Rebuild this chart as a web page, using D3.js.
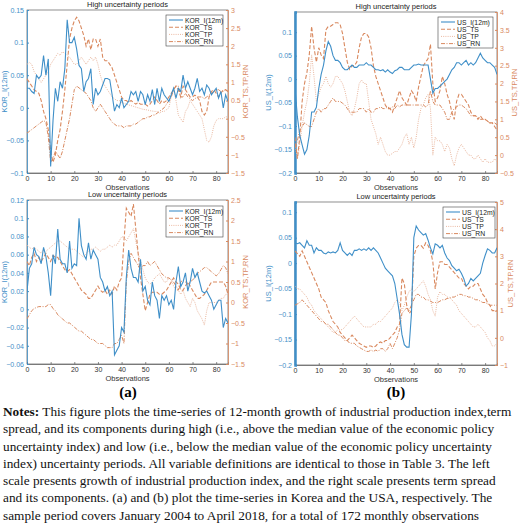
<!DOCTYPE html>
<html><head><meta charset="utf-8">
<script src="https://cdn.jsdelivr.net/npm/d3@7"></script>
<style>
body{margin:0;background:#fff;}
svg text{font-family:"Liberation Sans",Arial,sans-serif;}
#notes{position:absolute;left:3px;top:403px;width:518px;font-family:"Liberation Serif","Times New Roman",serif;font-size:13.3px;line-height:17.3px;color:#111;white-space:nowrap;}
</style></head><body>
<svg id="c" width="520" height="402" style="position:absolute;left:0;top:0"></svg>
<div id="notes"><b>Notes:</b> This figure plots the time-series of 12-month growth of industrial production index,term<br>spread, and its components during high (i.e., above the median value of the economic policy<br>uncertainty index) and low (i.e., below the median value of the economic policy uncertainty<br>index) uncertainty periods. All variable definitions are identical to those in Table 3. The left<br>scale presents growth of industrial production index, and the right scale presents term spread<br>and its components. (a) and (b) plot the time-series in Korea and the USA, respectively. The<br>sample period covers January 2004 to April 2018, for a total of 172 monthly observations</div>
<script>
const xTicks=[0,10,20,30,40,50,60,70,80];
// Panel (a) high
const korHighI=[0.03,0.03,0.025,0.022,0.05,0.045,0.05,0.08,0.05,0.075,-0.09,-0.02,0.03,0.01,0.04,0.03,0.06,0.135,0.1,0.1,0.108,0.09,0.065,0.06,0.025,0.04,0.045,0.06,0.005,0.03,0.02,0.025,0.035,0.045,0.045,0.043,0.02,-0.005,0.005,0.0,0.015,0.0,0.005,0.01,0.025,0.02,0.025,0.01,0.025,0.02,0.005,0.02,0.01,0.028,0.005,0.03,0.01,0.03,0.02,0.015,0.01,0.02,0.03,0.015,0.03,0.025,0.05,0.03,0.04,0.03,0.02,0.03,0.045,0.025,0.03,0.02,0.035,0.03,0.02,0.025,0.03,0.015,0.025,0.0,0.02,0.01];
const korHighTS=[1.1,1.0,0.9,0.8,0.75,0.7,0.5,0.2,0.0,-0.3,-0.9,-1.2,-1.0,-0.6,-0.3,0.2,0.8,1.5,2.2,2.5,2.7,2.8,2.7,2.5,2.3,2.0,2.2,1.9,2.2,2.2,2.0,2.2,1.7,1.6,1.6,1.5,1.4,1.2,1.0,0.8,0.6,0.5,0.5,0.45,0.5,0.45,0.4,0.45,0.4,0.4,0.4,0.35,0.4,0.5,0.6,0.5,0.4,0.5,0.45,0.5,0.6,0.7,0.8,0.9,0.8,0.6,0.9,0.8,0.7,0.6,0.6,0.65,0.6,0.5,0.2,0.1,0.2,0.6,0.75,0.8,0.7,0.6,0.7,0.8,0.8,0.75,0.75];
const korHighTP=[1.5,1.55,1.5,1.3,1.2,1.1,1.0,1.1,1.2,1.3,1.5,1.6,1.7,1.8,1.75,1.85,1.8,1.75,1.7,1.6,1.5,1.5,1.6,1.7,1.6,1.5,1.6,1.7,1.6,1.7,1.5,1.2,1.0,0.9,0.8,0.7,0.6,0.55,0.5,0.5,0.45,0.42,0.4,0.38,0.36,0.34,0.32,0.3,0.28,0.26,0.25,0.24,0.22,0.21,0.2,0.2,0.15,0.2,0.2,0.25,0.3,0.6,0.8,0.5,0.1,0.0,-0.1,0.2,0.3,0.5,0.4,0.3,0.2,0.1,0.0,-0.3,-0.6,-0.65,-0.5,-0.2,-0.05,0.0,0.0,0.0,0.05,0.05];
const korHighRN=[-0.4,-0.35,-0.3,-0.25,-0.2,-0.15,-0.1,-0.05,-0.1,-0.5,-1.2,-1.1,-0.9,-1.0,-1.1,-0.9,-0.6,-0.3,0.0,0.4,0.8,0.9,0.85,0.8,0.75,0.7,0.6,0.5,0.3,0.2,0.3,0.4,0.3,0.2,0.1,0.0,-0.1,-0.15,-0.2,-0.2,-0.2,-0.25,-0.2,-0.2,-0.2,-0.15,-0.15,-0.1,-0.05,0.0,0.0,0.05,0.05,0.1,0.1,0.15,0.2,0.25,0.3,0.4,0.5,0.6,0.8,0.9,0.9,0.6,0.6,0.7,0.6,0.55,0.5,0.55,0.6,0.6,0.6,0.55,0.6,0.65,0.7,0.75,0.8,0.8,0.75,0.75,0.8,0.75];
// Panel (b) high
const usHighI=[-0.02,-0.08,-0.12,-0.14,-0.16,-0.15,-0.12,-0.07,-0.07,-0.06,-0.02,0.01,0.03,0.06,0.08,0.07,0.05,0.04,0.04,0.035,0.025,0.02,0.02,0.025,0.03,0.025,0.025,0.03,0.03,0.03,0.035,0.03,0.03,0.025,0.02,0.02,0.018,0.02,0.015,0.02,0.015,0.012,0.018,0.02,0.025,0.025,0.02,0.02,0.02,0.025,0.03,0.03,0.032,0.03,0.03,0.03,0.03,0.0,-0.03,-0.02,-0.02,-0.015,-0.01,-0.005,0.0,0.01,0.02,0.025,0.035,0.035,0.03,0.035,0.04,0.03,0.035,0.03,0.035,0.045,0.055,0.045,0.04,0.035,0.035,0.03,0.025,0.01];
const usHighTS=[0.5,-0.1,0.5,1.5,2.0,2.3,2.8,3.6,3.0,2.6,3.0,2.8,2.7,3.5,3.6,3.6,3.65,3.7,3.7,3.65,3.4,3.0,2.6,2.4,2.5,2.5,2.6,3.0,3.3,3.4,3.4,3.3,3.0,2.5,2.2,2.0,1.8,1.6,1.4,1.3,1.3,1.2,1.4,1.6,1.8,1.6,1.5,1.4,1.6,1.8,1.7,1.5,1.9,2.2,2.5,2.6,2.7,3.1,2.0,1.5,1.6,1.8,2.2,2.0,1.7,1.5,1.2,1.0,1.5,1.7,1.7,1.6,1.5,1.4,1.2,1.1,1.1,1.0,1.1,1.0,1.0,0.95,0.9,0.9,0.8,0.7];
const usHighTP=[0.3,-0.1,0.3,0.8,1.2,1.5,2.0,2.8,2.2,1.5,1.7,1.9,2.0,2.2,2.0,1.9,2.0,2.2,2.2,2.1,2.0,1.8,1.5,1.2,1.1,1.3,1.6,2.0,2.1,2.0,2.0,1.5,1.0,0.8,0.6,0.3,0.5,0.3,0.1,0.0,0.0,0.05,0.1,0.1,0.2,0.3,0.5,0.6,0.3,0.5,0.2,0.5,1.0,1.3,1.4,1.6,1.7,1.3,0.0,0.5,0.4,0.4,0.3,0.1,0.3,0.2,-0.1,-0.3,0.0,0.2,0.3,0.2,0.1,0.0,0.0,-0.1,-0.1,0.0,-0.1,-0.2,-0.1,-0.2,-0.2,-0.2,-0.1,-0.2];
const usHighRN=[0.2,0.4,0.7,0.8,0.9,0.85,0.8,0.8,1.0,1.2,1.3,1.2,1.3,1.3,1.4,1.5,1.6,1.5,1.5,1.5,1.45,1.4,1.3,1.2,1.2,1.2,1.2,1.3,1.3,1.3,1.2,1.3,1.2,1.2,1.3,1.3,1.35,1.3,1.3,1.35,1.3,1.35,1.3,1.4,1.35,1.4,1.4,1.4,1.4,1.4,1.4,1.4,1.4,1.4,1.4,1.35,1.4,1.8,1.5,1.4,1.4,1.4,1.3,1.2,1.0,1.0,1.2,1.3,1.35,1.4,1.4,1.35,1.3,1.2,1.1,1.1,1.1,1.05,1.0,1.0,1.0,0.95,0.9,0.9,0.9,0.85];
// Panel (a) low
const korLowI=[0.02,0.045,0.05,0.068,0.06,0.058,0.05,0.068,0.058,0.04,0.015,0.06,0.05,0.088,0.055,0.05,0.05,0.04,0.075,0.045,0.05,0.048,0.1,0.07,0.06,0.055,0.073,0.055,0.065,0.06,0.055,0.035,0.03,0.02,0.025,0.015,0.02,-0.05,-0.045,-0.04,-0.02,-0.025,0.035,0.065,0.045,0.035,0.035,0.03,0.055,0.02,0.025,0.01,0.005,0.03,0.015,0.01,-0.01,0.015,0.01,0.015,0.005,0.01,0.0,0.03,0.047,0.025,0.03,0.04,0.02,0.03,0.045,0.035,0.04,0.03,0.02,0.018,0.02,0.015,0.01,0.0,0.005,0.01,0.01,-0.02,-0.01,-0.015];
const korLowTS=[1.0,0.9,1.1,1.2,1.0,1.1,1.0,1.1,1.2,1.1,1.0,1.15,1.1,1.1,1.0,0.9,0.8,0.75,0.8,0.7,0.6,0.5,0.4,0.3,0.25,0.2,0.1,0.1,0.2,0.3,0.4,0.3,0.25,0.3,0.2,0.3,0.2,0.4,0.3,0.5,0.6,1.5,2.3,2.2,2.1,2.4,1.8,1.2,0.6,0.2,-0.2,0.0,0.2,0.25,0.25,0.25,0.2,0.2,0.25,0.3,0.4,0.5,0.6,0.5,0.45,0.3,0.3,0.4,0.5,0.4,0.3,0.2,0.1,0.1,0.15,0.2,0.3,0.4,0.5,0.5,0.5,0.5,0.5,0.5,0.4,0.2];
const korLowTP=[1.4,1.35,1.3,1.35,1.3,1.25,1.2,1.3,1.25,1.3,1.35,1.4,1.45,1.5,1.5,1.45,1.4,1.35,1.3,1.3,1.3,1.25,1.2,1.15,1.1,1.2,1.25,1.3,1.3,1.35,1.3,1.25,1.3,1.3,1.35,1.4,1.35,1.4,1.4,1.5,1.6,1.6,1.5,1.6,1.7,1.8,1.5,1.2,1.0,0.8,0.6,0.5,0.45,0.5,0.6,0.65,0.7,0.6,0.5,0.5,0.6,0.55,0.4,0.3,0.3,0.2,0.3,0.1,0.0,-0.1,0.1,0.0,-0.2,-0.3,-0.4,-0.55,-0.2,0.0,0.0,0.0,0.0,0.05,0.1,0.1,0.2,0.2];
const korLowRN=[-0.4,-0.3,-0.2,-0.15,-0.12,-0.1,-0.1,-0.1,-0.1,-0.05,-0.05,-0.15,-0.2,-0.3,-0.35,-0.4,-0.45,-0.5,-0.5,-0.55,-0.6,-0.65,-0.7,-0.7,-0.75,-0.8,-0.85,-0.9,-0.9,-0.95,-1.0,-1.0,-1.0,-1.05,-1.1,-1.1,-1.1,-1.0,-1.0,-0.9,-0.8,-1.0,0.5,1.0,1.2,1.1,1.0,0.9,0.8,0.9,0.9,1.0,0.9,0.95,1.0,0.9,0.8,0.7,0.65,0.6,0.6,0.55,0.5,0.4,0.3,0.5,0.55,0.5,0.45,0.5,0.55,0.6,0.7,0.75,0.8,0.85,0.85,0.8,0.75,0.7,0.65,0.7,0.8,0.9,0.85,0.7];
// Panel (b) low
const usLowI=[0.04,0.038,0.04,0.035,0.03,0.044,0.035,0.035,0.02,0.03,0.025,0.025,0.02,0.018,0.022,0.02,0.022,0.02,0.025,0.04,0.025,0.02,0.015,0.02,0.015,0.025,0.025,0.028,0.025,0.028,0.025,0.03,0.025,0.03,0.025,0.02,0.01,0.0,-0.01,-0.015,-0.02,-0.025,-0.04,-0.07,-0.1,-0.14,-0.16,-0.165,-0.165,-0.1,0.05,0.073,0.065,0.06,0.055,0.058,0.045,0.03,0.018,0.038,0.035,0.03,0.035,0.02,0.01,0.005,-0.005,-0.01,-0.015,-0.012,-0.02,-0.03,-0.045,-0.04,-0.03,-0.035,-0.03,-0.025,-0.02,0.0,0.015,0.028,0.025,0.02,0.02,0.03];
const usLowTS=[3.2,3.1,3.0,3.2,3.0,2.8,2.6,2.4,2.2,2.0,1.8,1.5,1.4,1.3,1.0,0.8,0.6,0.5,0.4,0.2,0.1,0.0,-0.1,0.0,0.1,0.0,-0.1,-0.2,-0.25,-0.3,-0.35,-0.3,-0.3,-0.35,-0.3,-0.2,-0.15,-0.2,-0.1,-0.1,0.0,0.1,0.2,0.4,0.5,2.2,2.0,1.2,0.9,1.0,3.0,3.3,3.4,3.4,3.3,3.5,3.4,3.2,2.8,1.8,2.4,2.8,2.8,2.7,2.7,2.6,2.5,2.4,2.3,2.2,2.2,2.0,1.9,1.8,1.9,1.9,2.0,2.0,1.8,1.6,1.5,1.3,1.2,1.0,1.0,1.0];
const usLowTP=[1.9,1.8,1.8,1.7,1.6,1.5,1.3,1.2,1.0,0.9,0.8,0.7,0.6,0.5,0.4,0.3,0.2,0.2,0.3,0.3,0.3,0.4,0.5,0.6,0.7,0.8,0.7,0.6,0.5,0.4,0.4,0.4,0.4,0.5,0.5,0.6,0.6,0.7,0.8,0.9,1.0,1.1,1.3,1.4,1.3,1.0,1.2,1.5,1.7,1.8,1.7,1.8,1.9,2.0,2.1,1.9,1.6,1.4,1.0,0.8,1.5,1.7,1.6,1.6,1.5,1.5,1.4,1.3,1.2,1.0,0.9,0.8,0.7,0.6,0.5,0.4,0.4,0.5,0.4,0.3,0.2,0.0,-0.1,-0.3,-0.3,-0.2];
const usLowRN=[1.2,1.25,1.3,1.4,1.3,1.2,1.1,1.0,0.9,0.8,0.7,0.6,0.6,0.5,0.5,0.4,0.3,0.2,0.1,0.1,0.0,-0.1,-0.1,-0.2,-0.2,-0.2,-0.3,-0.35,-0.4,-0.45,-0.5,-0.5,-0.45,-0.5,-0.45,-0.5,-0.4,-0.4,-0.5,-0.4,-0.2,-0.4,-0.2,0.0,0.3,0.9,1.0,1.1,1.0,1.2,1.4,1.6,1.6,1.5,1.5,1.4,1.4,1.35,1.3,1.3,1.3,1.35,1.4,1.4,1.45,1.45,1.5,1.5,1.55,1.6,1.6,1.55,1.55,1.5,1.5,1.45,1.4,1.4,1.35,1.3,1.3,1.25,1.2,1.2,1.2,1.2];

const BLUE="#3f8fc8", ORANGE="#d9895f", TPCOL="#eab8a0";
const svg=d3.select("#c");
const fmt=v=>{let s=(+v.toFixed(3)).toString();return s.replace("-","\u2212");};

function panel(o){
  const g=svg.append("g");
  const x=d3.scaleLinear().domain([0,85]).range([o.x0,o.x1]);
  const yl=d3.scaleLinear().domain(o.ld).range([o.y1,o.y0]);
  const yr=d3.scaleLinear().domain(o.rd).range([o.y1,o.y0]);
  g.append("rect").attr("x",o.x0).attr("y",o.y0).attr("width",o.x1-o.x0).attr("height",o.y1-o.y0).attr("fill","none").attr("stroke","#444").attr("stroke-width",0.6);
  const fs="7px";
  const ax=g.append("g").attr("transform",`translate(0,${o.y1})`).call(d3.axisBottom(x).tickValues(xTicks).tickSize(-2).tickPadding(3).tickFormat(d3.format("d")));
  ax.selectAll("text").attr("font-size",fs).attr("fill","#333");
  ax.selectAll("line,path").attr("stroke","#444").attr("stroke-width",0.6);
  const al=g.append("g").attr("transform",`translate(${o.x0},0)`).call(d3.axisLeft(yl).tickValues(o.lt).tickSize(-2).tickPadding(3).tickFormat(fmt));
  al.selectAll("text").attr("font-size",fs).attr("fill",BLUE);
  al.selectAll("line").attr("stroke",BLUE);
  al.select("path").attr("stroke",BLUE).attr("stroke-width",o.thickL?2.5:0.8);
  const ar=g.append("g").attr("transform",`translate(${o.x1},0)`).call(d3.axisRight(yr).tickValues(o.rt).tickSize(-2).tickPadding(3).tickFormat(fmt));
  ar.selectAll("text").attr("font-size",fs).attr("fill",ORANGE);
  ar.selectAll("line").attr("stroke",ORANGE);
  ar.select("path").attr("stroke",ORANGE).attr("stroke-width",0.8);
  const clip="cl"+o.id;
  g.append("clipPath").attr("id",clip).append("rect").attr("x",o.x0).attr("y",o.y0).attr("width",o.x1-o.x0).attr("height",o.y1-o.y0);
  const L=(ys)=>d3.line().x((d,i)=>x(i)).y(d=>ys(d));
  const series=[
    {d:o.tp,s:yr,c:TPCOL,da:"1,1.2",w:1},
    {d:o.rn,s:yr,c:ORANGE,da:"4,1.5,1,1.5",w:1},
    {d:o.ts,s:yr,c:ORANGE,da:"4,2",w:1.1},
    {d:o.I,s:yl,c:BLUE,da:null,w:1.1}];
  series.forEach(se=>g.append("path").datum(se.d).attr("clip-path",`url(#${clip})`).attr("d",L(se.s)).attr("fill","none").attr("stroke",se.c).attr("stroke-width",se.w).attr("stroke-dasharray",se.da));
  g.append("text").attr("x",(o.x0+o.x1)/2).attr("y",o.y0-3).attr("text-anchor","middle").attr("font-size","7.5px").attr("fill","#222").text(o.title);
  g.append("text").attr("x",(o.x0+o.x1)/2).attr("y",o.y1+17).attr("text-anchor","middle").attr("font-size","7.5px").attr("fill","#333").text("Observations");
  g.append("text").attr("transform",`translate(${o.x0-o.lpad},${(o.y0+o.y1)/2}) rotate(-90)`).attr("text-anchor","middle").attr("font-size","7.5px").attr("fill",BLUE).text(o.lname);
  g.append("text").attr("transform",`translate(${o.x1+o.rpad},${(o.y0+o.y1)/2}) rotate(-90)`).attr("text-anchor","middle").attr("font-size","7.5px").attr("fill",ORANGE).text(o.rname);
  const lg=g.append("g").attr("transform",`translate(${o.lx},${o.ly})`);
  lg.append("rect").attr("width",o.lw).attr("height",31).attr("fill","#fff").attr("stroke","#444").attr("stroke-width",0.6);
  const names=[o.pre+"_I(12m)",o.pre+"_TS",o.pre+"_TP",o.pre+"_RN"];
  const sty=[series[3],series[2],series[0],series[1]];
  names.forEach((n,i)=>{
    const yy=5+i*7.2;
    lg.append("line").attr("x1",3).attr("x2",17).attr("y1",yy).attr("y2",yy).attr("stroke",sty[i].c).attr("stroke-width",sty[i].w).attr("stroke-dasharray",sty[i].da);
    lg.append("text").attr("x",19).attr("y",yy+2.5).attr("font-size","6.8px").attr("fill","#222").text(n);
  });
}
const r=(a,b,s)=>d3.range(a,b+s/2,s).map(v=>+v.toFixed(3));
panel({id:1,x0:27,x1:228,y0:10,y1:173,ld:[-0.1,0.15],rd:[-1.5,3],lt:r(-0.1,0.15,0.05),rt:r(-1.5,3,0.5),I:korHighI,ts:korHighTS,tp:korHighTP,rn:korHighRN,title:"High uncertainty periods",lname:"KOR_I(12m)",rname:"KOR_TS,TP,RN",lpad:20,rpad:20,pre:"KOR",lx:166,ly:15,lw:57});
panel({id:2,x0:295,x1:497,y0:12,y1:173,ld:[-0.2,0.143],rd:[-0.5,4],lt:r(-0.2,0.1,0.05),rt:r(-0.5,4,0.5),I:usHighI,ts:usHighTS,tp:usHighTP,rn:usHighRN,title:"High uncertainty periods",lname:"US_I(12m)",rname:"US_TS,TP,RN",lpad:24,rpad:20,pre:"US",lx:438,ly:17,lw:55,thickL:true});
panel({id:3,x0:27,x1:228,y0:200,y1:364,ld:[-0.06,0.12],rd:[-1.5,2.5],lt:r(-0.06,0.12,0.02),rt:r(-1.5,2.5,0.5),I:korLowI,ts:korLowTS,tp:korLowTP,rn:korLowRN,title:"Low uncertainty periods",lname:"KOR_I(12m)",rname:"KOR_TS,TP,RN",lpad:20,rpad:20,pre:"KOR",lx:166,ly:206,lw:57});
panel({id:4,x0:295,x1:497,y0:202,y1:365,ld:[-0.2,0.12],rd:[-1,5],lt:r(-0.2,0.1,0.05),rt:r(-1,5,1),I:usLowI,ts:usLowTS,tp:usLowTP,rn:usLowRN,title:"Low uncertainty periods",lname:"US_I(12m)",rname:"US_TS,TP,RN",lpad:24,rpad:16,pre:"US",lx:443,ly:207,lw:52,thickL:true});
svg.append("text").attr("x",128).attr("y",397).attr("text-anchor","middle").style("font-family","'Liberation Serif',serif").attr("font-weight","bold").attr("font-size","15px").text("(a)");
svg.append("text").attr("x",396).attr("y",397).attr("text-anchor","middle").style("font-family","'Liberation Serif',serif").attr("font-weight","bold").attr("font-size","15px").text("(b)");
</script></body></html>
